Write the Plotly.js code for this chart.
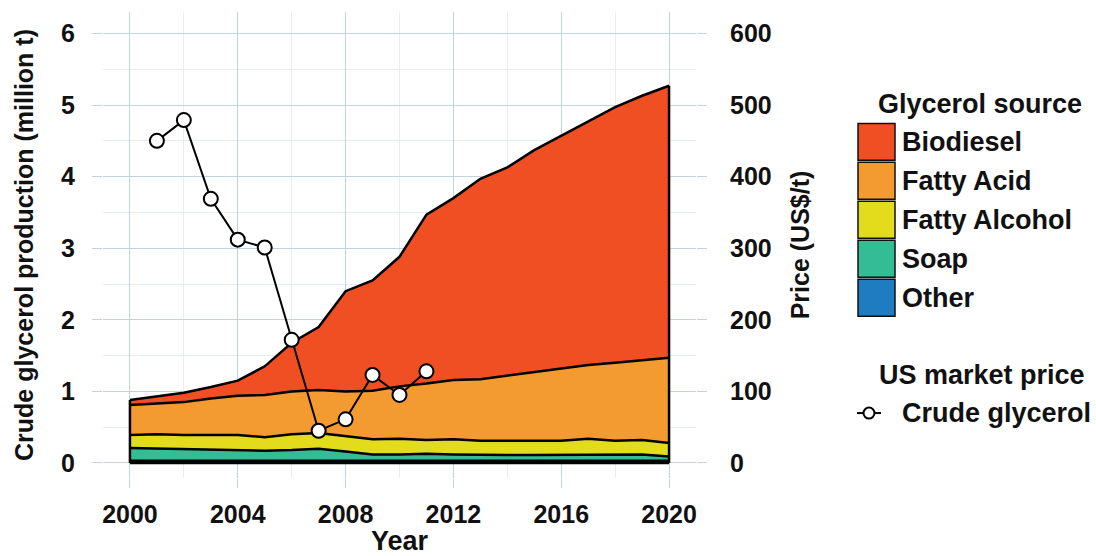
<!DOCTYPE html>
<html>
<head>
<meta charset="utf-8">
<script src="https://cdn.plot.ly/plotly-3.0.1.min.js"></script>
<style>html,body{margin:0;padding:0;background:#fff;}#chart{width:1096px;height:556px;}</style>
</head>
<body>
<div id="chart"></div>
<script>
// ---- data (million t per source, stacked bottom to top) ----
const years = [2000,2001,2002,2003,2004,2005,2006,2007,2008,2009,2010,2011,2012,2013,2014,2015,2016,2017,2018,2019,2020];
const other        = [0.03,0.03,0.03,0.03,0.03,0.03,0.03,0.03,0.03,0.03,0.03,0.03,0.03,0.03,0.03,0.03,0.03,0.03,0.03,0.03,0.03];
const soap         = [0.18,0.17,0.17,0.16,0.15,0.14,0.15,0.17,0.13,0.09,0.09,0.10,0.09,0.08,0.08,0.08,0.08,0.09,0.08,0.09,0.06];
const fattyAlcohol = [0.18,0.20,0.19,0.20,0.21,0.19,0.22,0.22,0.22,0.21,0.22,0.19,0.21,0.20,0.20,0.20,0.20,0.22,0.20,0.20,0.19];
const fattyAcid    = [0.42,0.43,0.46,0.51,0.55,0.59,0.60,0.60,0.62,0.68,0.73,0.79,0.83,0.86,0.91,0.96,1.01,1.03,1.09,1.12,1.19];
const biodiesel    = [0.07,0.10,0.13,0.16,0.21,0.40,0.68,0.88,1.40,1.54,1.81,2.36,2.54,2.80,2.91,3.10,3.25,3.41,3.57,3.69,3.80];
const priceYears = [2001,2002,2003,2004,2005,2006,2007,2008,2009,2010,2011];
const price      = [450,479,369,312,301,172,45,61,123,95,128];
const sourceNames  = ['Biodiesel','Fatty Acid','Fatty Alcohol','Soap','Other'];
const sourceColors = ['#EF4F22','#F39A31','#E2DC1C','#34BD94','#1E7DC0'];
const xTicks = [2000,2004,2008,2012,2016,2020];

// ---- layout geometry ----
const L = 103, W = 593, T = 11.5, H = 466.5;
const px = x => (x - L) / W;
const py = y => (T + H - y) / H;
const FONT = 'Liberation Sans, Arial, sans-serif';
const GRID = '#c2d3de', MINOR = '#e7eef3';

const series = [other, soap, fattyAlcohol, fattyAcid, biodiesel];
const order = ['Other','Soap','Fatty Alcohol','Fatty Acid','Biodiesel'];
const traces = series.map((s, i) => ({
  type: 'scatter', mode: 'lines', x: years, y: s, name: order[i],
  stackgroup: 'src', fill: 'tonexty',
  fillcolor: sourceColors[sourceNames.indexOf(order[i])],
  line: {color: '#000', width: 2.5}, showlegend: false, hoverinfo: 'x+y+name'
}));
const total = years.map((_, k) => series.reduce((a, s) => a + s[k], 0));
const n = years.length - 1;
traces.push({
  type: 'scatter', mode: 'lines',
  x: [years[0], years[0], null, years[n], years[n], null, years[0], years[n]],
  y: [0, total[0], null, 0, total[n], null, 0, 0],
  line: {color: '#000', width: 2.5}, showlegend: false, hoverinfo: 'skip'
});
traces.push({
  type: 'scatter', mode: 'lines+markers', x: priceYears, y: price, yaxis: 'y2',
  name: 'Crude glycerol', showlegend: false,
  line: {color: '#000', width: 2},
  marker: {symbol: 'circle', size: 14, color: '#fff', line: {color: '#000', width: 2}}
});

const tickFont = {family: FONT, size: 25, color: '#111', weight: 'bold'};
const legFont = {family: FONT, size: 27, color: '#111', weight: 'bold'};
const shapes = [], annotations = [];
const rowTop = [123, 162, 201, 240, 279];
sourceNames.forEach((nm, i) => {
  shapes.push({type: 'rect', xref: 'paper', yref: 'paper',
    x0: px(858), x1: px(895), y0: py(rowTop[i]), y1: py(rowTop[i] + 37),
    fillcolor: sourceColors[i], line: {color: '#111', width: 1.5}});
  annotations.push({xref: 'paper', yref: 'paper', x: px(900), y: py(rowTop[i] + 18.5),
    xanchor: 'left', yanchor: 'middle', text: nm, showarrow: false, font: legFont});
});
annotations.push({xref: 'paper', yref: 'paper', x: px(876), y: py(104), xanchor: 'left', yanchor: 'middle',
  text: 'Glycerol source', showarrow: false, font: legFont});
annotations.push({xref: 'paper', yref: 'paper', x: px(877), y: py(375), xanchor: 'left', yanchor: 'middle',
  text: 'US market price', showarrow: false, font: legFont});
annotations.push({xref: 'paper', yref: 'paper', x: px(900), y: py(413), xanchor: 'left', yanchor: 'middle',
  text: 'Crude glycerol', showarrow: false, font: legFont});
shapes.push({type: 'line', xref: 'paper', yref: 'paper', x0: px(857), x1: px(881), y0: py(413), y1: py(413),
  line: {color: '#000', width: 2}});
shapes.push({type: 'circle', xref: 'paper', yref: 'paper', x0: px(863.5), x1: px(874.5), y0: py(418.5), y1: py(407.5),
  fillcolor: '#fff', line: {color: '#000', width: 2}});

const layout = {
  width: 1096, height: 556,
  margin: {l: L, r: 1096 - L - W, t: T, b: 556 - T - H, pad: 0},
  paper_bgcolor: '#fff', plot_bgcolor: '#fff',
  showlegend: false,
  xaxis: {range: [1999, 2021], tickvals: xTicks, ticktext: xTicks.map(String),
    showgrid: true, gridcolor: GRID, gridwidth: 1, zeroline: false, showline: false,
    ticks: 'outside', ticklen: 9, tickcolor: GRID, tickwidth: 1, ticklabelstandoff: 5,
    minor: {dtick: 2, tick0: 2000, showgrid: true, gridcolor: MINOR, gridwidth: 1},
    tickfont: tickFont,
    title: {text: 'Year', font: legFont, standoff: 13}},
  yaxis: {range: [-0.21, 6.3], tick0: 0, dtick: 1,
    showgrid: true, gridcolor: GRID, gridwidth: 1, zeroline: false, showline: false,
    ticks: 'outside', ticklen: 10, tickcolor: GRID, tickwidth: 1, ticklabelstandoff: 12,
    minor: {dtick: 0.5, tick0: 0, showgrid: true, gridcolor: MINOR, gridwidth: 1},
    tickfont: tickFont,
    title: {text: 'Crude glycerol production (million t)', font: tickFont, standoff: 20}},
  yaxis2: {range: [-21, 630], tickvals: [0,100,200,300,400,500,600], overlaying: 'y', side: 'right',
    showgrid: false, zeroline: false, showline: false,
    ticks: 'outside', ticklen: 10, tickcolor: GRID, tickwidth: 1, ticklabelstandoff: 18,
    tickfont: tickFont,
    title: {text: 'Price (US$/t)', font: tickFont, standoff: 20}},
  shapes: shapes, annotations: annotations
};
Plotly.newPlot('chart', traces, layout, {displayModeBar: false, staticPlot: true});
</script>
</body>
</html>
